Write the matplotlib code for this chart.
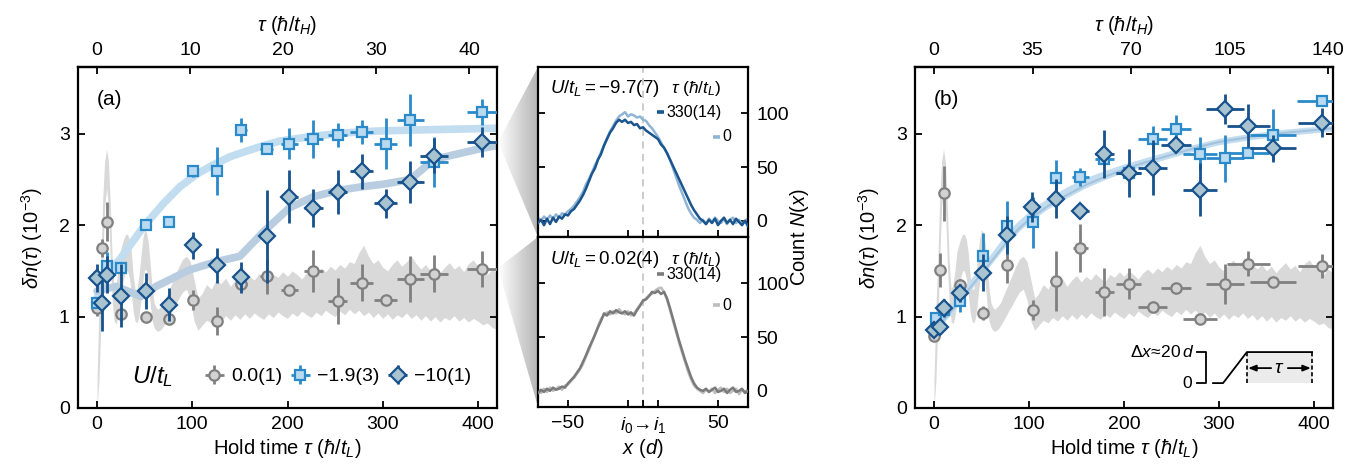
import numpy as np
import matplotlib
matplotlib.use('Agg')
import matplotlib.pyplot as plt
from matplotlib.patches import Polygon, Rectangle
from matplotlib.colors import LinearSegmentedColormap

plt.rcParams['font.family'] = ['Liberation Sans', 'DejaVu Sans']
plt.rcParams['mathtext.fontset'] = 'custom'
plt.rcParams['mathtext.rm'] = 'Liberation Sans'
plt.rcParams['mathtext.it'] = 'Liberation Sans:italic'
plt.rcParams['mathtext.bf'] = 'Liberation Sans:bold'
plt.rcParams['axes.linewidth'] = 1.6
for a in ('xtick', 'ytick'):
    plt.rcParams[a + '.major.width'] = 1.3
    plt.rcParams[a + '.major.size'] = 5
    plt.rcParams[a + '.direction'] = 'in'
    plt.rcParams[a + '.labelsize'] = 14

# ---------------- data: panel (a) ----------------
tA_c = [0, 5, 10, 25, 51, 76, 101, 126, 151, 178, 202, 227, 253, 278, 303, 329, 354, 404]
yA_c = [1.09, 1.75, 2.04, 1.03, 0.99, 0.97, 1.18, 0.95, 1.36, 1.44, 1.29, 1.50, 1.17, 1.37, 1.18, 1.41, 1.47, 1.52]
eA_c = [0.08, 0.10, 0.21, 0.05, 0.05, 0.04, 0.11, 0.15, 0.05, 0.19, 0.05, 0.23, 0.25, 0.20, 0.04, 0.25, 0.20, 0.20]
xA_c = [0, 0, 0, 0, 0, 0, 0, 0, 6, 7, 9, 10, 10, 12, 12, 14, 15, 16]

tA_s = [0, 10, 25, 51, 76, 101, 126, 151, 178, 202, 227, 253, 278, 303, 329, 354, 404]
yA_s = [1.15, 1.55, 1.53, 2.00, 2.03, 2.59, 2.59, 3.04, 2.83, 2.89, 2.94, 2.99, 3.02, 2.89, 3.15, 2.69, 3.24]
eA_s = [0.05, 0.16, 0.05, 0.04, 0.05, 0.06, 0.26, 0.13, 0.04, 0.17, 0.21, 0.13, 0.13, 0.28, 0.28, 0.27, 0.14]
xA_s = [0, 0, 0, 0, 0, 0, 0, 6, 7, 9, 10, 10, 12, 12, 14, 15, 16]

tA_d = [0, 5, 10, 25, 51, 76, 101, 126, 151, 178, 202, 227, 253, 278, 303, 329, 354, 404]
yA_d = [1.42, 1.15, 1.46, 1.23, 1.28, 1.13, 1.78, 1.56, 1.43, 1.88, 2.31, 2.19, 2.36, 2.59, 2.24, 2.47, 2.76, 2.91]
eA_d = [0.15, 0.31, 0.20, 0.34, 0.20, 0.18, 0.15, 0.19, 0.17, 0.51, 0.29, 0.21, 0.24, 0.19, 0.16, 0.23, 0.19, 0.16]
xA_d = [0, 0, 0, 0, 0, 0, 0, 0, 6, 7, 9, 10, 10, 12, 12, 14, 15, 16]

fitA1_t = [0, 5, 15, 25, 50, 70, 87, 105, 122, 140, 157, 175, 192, 225, 261, 295, 331, 420]
fitA1 = [1.20, 1.35, 1.52, 1.64, 2.00, 2.24, 2.42, 2.56, 2.66, 2.75, 2.81, 2.87, 2.92, 2.97, 3.01, 3.03, 3.04, 3.06]
fitA2_t = [0, 20, 46, 62, 97, 125, 150, 175, 202, 227, 253, 278, 302, 329, 354, 404, 420]
fitA2 = [1.28, 1.33, 1.22, 1.33, 1.51, 1.60, 1.66, 1.93, 2.19, 2.31, 2.38, 2.42, 2.45, 2.50, 2.72, 2.84, 2.87]

# theory fluctuation band (same in both panels)
band_t = [0, 2, 4, 6, 8, 10, 12, 14, 16, 18, 20, 22, 24, 26, 28, 30, 32, 34, 36, 38,
          40, 42, 44, 46, 48, 50, 52, 54, 56, 58, 60, 62, 64, 66, 68, 70, 74, 78, 82, 86,
          90, 94, 98, 102, 106, 110, 115, 120, 125, 130, 135, 140, 145, 150, 155, 160,
          165, 170, 175, 180, 185, 190, 195, 200, 205, 210, 215, 220, 225, 230, 235, 240,
          245, 250, 255, 260, 265, 270, 275, 280, 285, 290, 295, 300, 305, 310, 315, 320,
          325, 330, 335, 340, 345, 350, 355, 360, 365, 370, 375, 380, 385, 390, 395, 400,
          405, 410, 415, 420]
band_hi = [0.30, 1.10, 1.60, 2.30, 2.70, 2.83, 2.70, 2.20, 1.60, 1.30, 1.35, 1.50, 1.70, 1.78, 1.85, 1.90, 1.90, 1.85, 1.70, 1.45,
           1.30, 1.30, 1.45, 1.65, 1.85, 1.95, 1.92, 1.80, 1.55, 1.30, 1.15, 1.10, 1.08, 1.10, 1.12, 1.15, 1.25, 1.35, 1.45, 1.55,
           1.63, 1.66, 1.60, 1.40, 1.20, 1.25, 1.35, 1.30, 1.40, 1.36, 1.42, 1.33, 1.40, 1.45, 1.38, 1.44,
           1.40, 1.47, 1.42, 1.38, 1.46, 1.43, 1.49, 1.44, 1.50, 1.46, 1.41, 1.48, 1.52, 1.47, 1.53, 1.49,
           1.55, 1.51, 1.57, 1.53, 1.60, 1.58, 1.70, 1.78, 1.66, 1.58, 1.62, 1.54, 1.50, 1.57, 1.62, 1.55,
           1.60, 1.66, 1.58, 1.52, 1.57, 1.50, 1.55, 1.48, 1.54, 1.59, 1.52, 1.56, 1.49, 1.58, 1.62, 1.55,
           1.50, 1.46, 1.52, 1.47]
band_lo = [0.00, 0.30, 0.90, 1.60, 2.20, 2.40, 2.20, 1.60, 1.15, 0.95, 0.92, 1.00, 1.15, 1.30, 1.42, 1.50, 1.50, 1.42, 1.25, 1.05,
           0.95, 0.93, 1.00, 1.18, 1.38, 1.52, 1.50, 1.35, 1.12, 0.95, 0.88, 0.85, 0.84, 0.85, 0.87, 0.90, 0.97, 1.05, 1.12, 1.20,
           1.27, 1.30, 1.18, 0.95, 0.85, 0.90, 0.96, 0.93, 0.99, 0.95, 1.01, 0.96, 1.02, 0.97, 1.03, 0.98,
           1.04, 1.00, 0.97, 1.03, 0.99, 1.05, 1.01, 0.98, 1.04, 1.00, 1.06, 1.02, 0.99, 1.05, 1.01, 1.07,
           1.03, 1.00, 1.06, 1.02, 1.08, 1.03, 1.07, 1.01, 1.05, 0.99, 1.04, 0.98, 1.03, 0.97, 1.02, 0.99,
           1.04, 0.98, 1.02, 0.96, 1.01, 0.95, 1.00, 0.94, 0.99, 0.96, 1.01, 0.95, 0.99, 0.94, 0.98, 0.95,
           0.91, 0.93, 0.88, 0.86]

# ---------------- data: panel (b) ----------------
tB_c = [0, 6, 11, 27, 52, 77, 104, 128, 154, 179, 205, 230, 255, 280, 306, 331, 357, 408]
yB_c = [0.79, 1.51, 2.35, 1.35, 1.04, 1.56, 1.07, 1.39, 1.75, 1.27, 1.36, 1.11, 1.31, 0.97, 1.36, 1.58, 1.38, 1.55]
eB_c = [0.05, 0.19, 0.30, 0.06, 0.08, 0.19, 0.11, 0.33, 0.26, 0.26, 0.17, 0.04, 0.04, 0.04, 0.22, 0.14, 0.04, 0.13]
xB_c = [0, 0, 0, 0, 0, 0, 4, 6, 8, 10, 13, 15, 16, 18, 20, 23, 24, 25]

tB_s = [2, 11, 27, 52, 77, 104, 128, 154, 179, 205, 230, 255, 280, 306, 331, 357, 408]
yB_s = [0.98, 1.07, 1.17, 1.66, 1.99, 2.03, 2.52, 2.53, 2.72, 2.57, 2.94, 3.05, 2.78, 2.73, 2.79, 2.99, 3.36]
eB_s = [0.04, 0.05, 0.12, 0.25, 0.27, 0.28, 0.19, 0.10, 0.06, 0.05, 0.15, 0.16, 0.18, 0.26, 0.05, 0.28, 0.04]
xB_s = [0, 0, 0, 0, 0, 0, 6, 9, 10, 13, 15, 16, 18, 20, 22, 24, 26]

tB_d = [0, 6, 11, 27, 52, 77, 103, 128, 154, 179, 205, 230, 255, 280, 306, 331, 357, 408]
yB_d = [0.85, 0.89, 1.09, 1.26, 1.48, 1.89, 2.20, 2.29, 2.16, 2.78, 2.57, 2.63, 2.88, 2.39, 3.27, 3.09, 2.84, 3.12]
eB_d = [0.05, 0.08, 0.10, 0.10, 0.20, 0.21, 0.16, 0.21, 0.04, 0.26, 0.26, 0.30, 0.05, 0.29, 0.16, 0.23, 0.15, 0.16]
xB_d = [0, 0, 0, 0, 0, 0, 4, 6, 9, 10, 13, 15, 16, 18, 20, 23, 24, 25]

fitB_t = [0, 10, 20, 30, 40, 50, 60, 70, 80, 90, 100, 120, 140, 160, 180, 200, 220, 240, 260, 280, 300, 330, 360, 390, 420]
fitB1 = [0.87, 1.00, 1.13, 1.27, 1.40, 1.53, 1.66, 1.80, 1.93, 2.03, 2.12, 2.27, 2.39, 2.49, 2.57, 2.64, 2.70, 2.76, 2.82, 2.87, 2.92, 2.97, 3.01, 3.04, 3.06]
fitB2 = [0.84, 0.96, 1.08, 1.21, 1.34, 1.47, 1.60, 1.73, 1.86, 1.97, 2.06, 2.21, 2.33, 2.44, 2.53, 2.61, 2.68, 2.74, 2.80, 2.86, 2.91, 2.96, 3.00, 3.03, 3.06]

# ---------------- data: density profiles ----------------
x_prof = [-70, -68, -66, -64, -62, -60, -58, -56, -54, -52, -50, -48, -46, -44, -42, -40, -38, -36,
          -34, -32, -30, -28, -26, -24, -22, -20, -18, -16, -14, -12, -10, -8, -6, -4, -2, 0,
          2, 4, 6, 8, 10, 12, 14, 16, 18, 20, 22, 24, 26, 28, 30, 32, 34, 36, 38, 40,
          42, 44, 46, 48, 50, 52, 54, 56, 58, 60, 62, 64, 66, 68, 70]
N_att_0 = [3, 0, 4, 1, 5, 2, 6, 3, 7, 6, 9, 11, 14, 18, 22, 27, 34, 39,
           45, 52, 57, 64, 70, 77, 83, 88, 93, 97, 99, 101, 97, 99, 98, 96, 97, 94,
           93, 89, 86, 82, 78, 73, 68, 63, 57, 49, 41, 33, 26, 19, 12, 7, 3, 1, -2, 1,
           -3, 2, -1, 3, 0, -2, 2, -3, 1, 3, -2, 1, -3, 0, 2]
N_att_330 = [-2, 1, -4, 2, -3, 3, -1, 4, 2, 6, 5, 9, 11, 15, 19, 24, 30, 37,
             44, 49, 57, 62, 70, 76, 82, 86, 91, 94, 92, 94, 91, 92, 89, 90, 86, 87,
             84, 82, 80, 78, 76, 71, 68, 63, 57, 51, 45, 39, 33, 27, 21, 15, 10, 6, 2, 0,
             -3, 1, -2, 2, -4, 0, 3, -2, 1, -3, 2, -1, -4, 0, -5]
N_free_0 = [1, -2, 2, -1, 3, 0, 2, 4, 1, 5, 6, 9, 12, 16, 20, 25, 32, 38,
            45, 53, 60, 67, 70, 73, 71, 74, 72, 76, 73, 71, 74, 70, 72, 76, 80, 83,
            86, 89, 90, 93, 95, 96, 92, 85, 75, 65, 55, 45, 36, 27, 18, 11, 5, 2, 0, -2,
            1, -1, 2, -2, 1, 3, -1, 2, -2, 0, 2, -3, 1, -1, 1]
N_free_330 = [-2, 1, -1, 2, 0, 3, 1, 2, 4, 3, 7, 10, 13, 17, 21, 27, 33, 40,
              46, 52, 59, 65, 72, 70, 74, 72, 75, 73, 72, 74, 71, 73, 70, 75, 79, 84,
              85, 88, 92, 91, 93, 90, 92, 86, 77, 67, 57, 47, 38, 29, 21, 13, 7, 3, 1, 0,
              2, -1, 1, 3, -1, 0, 2, -2, 1, 3, -1, 0, 2, -2, 0]

legend_labels = ['0.0(1)', '\u22121.9(3)', '\u221210(1)']

# ---------------- styles ----------------
C_GREY_E, C_GREY_F = '#808080', '#d2d2d2'
C_SQ_E, C_SQ_F = '#2a8ac9', '#b9daf0'
C_DI_E, C_DI_F = '#17528c', '#a9c3d0'
BAND = '#d9d9d9'

W, H = 1369, 470
fig = plt.figure(figsize=(W / 100, H / 100), dpi=100)


def rect(l, t, r, b):
    return [l / W, (H - b) / H, (r - l) / W, (b - t) / H]


axA = fig.add_axes(rect(78, 67, 497, 408))
axT = fig.add_axes(rect(538, 67, 748, 237))
axM = fig.add_axes(rect(538, 237, 748, 407))
axB = fig.add_axes(rect(915, 67, 1333, 408))


def series(ax, t, y, e, xe, marker, ms, mec, mfc, z):
    return ax.errorbar(t, y, yerr=e, xerr=xe, fmt=marker, ms=ms, mec=mec, mfc=mfc,
                       mew=1.6, ecolor=mec, elinewidth=2.0, capsize=0, zorder=z)


def main_panel(ax, label, factor, top_ticks):
    ax.fill_between(band_t, band_lo, band_hi, color=BAND, lw=0, zorder=1)
    ax.set_xlim(-20, 420)
    ax.set_ylim(0, 3.73)
    ax.set_xticks([0, 100, 200, 300, 400])
    ax.set_yticks([0, 1, 2, 3])
    ax.tick_params(axis='both', right=True, top=False, pad=6)
    ax.set_xlabel(r'Hold time $\tau$ ($\hbar/t_L$)', fontsize=14.5, labelpad=3)
    ax.set_ylabel(r'$\delta n(\tau)$ $(10^{-3})$', fontsize=14.5, labelpad=10)
    ax.text(0.045, 0.905, label, transform=ax.transAxes, fontsize=15, va='center')
    sec = ax.secondary_xaxis('top', functions=(lambda t: t * factor, lambda h: h / factor))
    sec.set_xticks(top_ticks)
    sec.tick_params(direction='in', length=5, width=1.3, labelsize=14, pad=6)
    sec.set_xlabel(r'$\tau$ ($\hbar/t_H$)', fontsize=14.5, labelpad=8)


# ----- panel (a)
main_panel(axA, '(a)', 0.1024, [0, 10, 20, 30, 40])
axA.plot(fitA1_t, fitA1, color='#c3ddf0', lw=5.5, solid_capstyle='round', zorder=2)
axA.plot(fitA2_t, fitA2, color='#b9cde0', lw=5.5, solid_capstyle='round', zorder=2)
hc = series(axA, tA_c, yA_c, eA_c, xA_c, 'o', 7.5, C_GREY_E, C_GREY_F, 3)
hs = series(axA, tA_s, yA_s, eA_s, xA_s, 's', 7.5, C_SQ_E, C_SQ_F, 4)
hd = series(axA, tA_d, yA_d, eA_d, xA_d, 'D', 8.2, C_DI_E, C_DI_F, 5)
axA.text(0.13, 0.092, r'$U/t_L$', transform=axA.transAxes, fontsize=17.5, va='center')
axA.legend([hc, hs, hd], legend_labels, ncol=3, loc='center left', bbox_to_anchor=(0.295, 0.092),
           frameon=False, fontsize=14, handlelength=1.3, handletextpad=0.2, columnspacing=0.3,
           borderaxespad=0, borderpad=0)

# ----- panel (b)
main_panel(axB, '(b)', 0.3375, [0, 35, 70, 105, 140])
axB.fill_between(fitB_t, [v - 0.03 for v in fitB2], [v + 0.03 for v in fitB1], color='#c3ddf0', lw=0, zorder=2)
axB.plot(fitB_t, fitB2, color='#9dbcd8', lw=1.5, alpha=0.8, zorder=2)
series(axB, tB_c, yB_c, eB_c, xB_c, 'o', 7.5, C_GREY_E, C_GREY_F, 3)
series(axB, tB_s, yB_s, eB_s, xB_s, 's', 7.5, C_SQ_E, C_SQ_F, 4)
series(axB, tB_d, yB_d, eB_d, xB_d, 'D', 8.2, C_DI_E, C_DI_F, 5)

# quench sketch inset
tr = axB.transAxes
axB.add_patch(Rectangle((0.794, 0.073), 0.156, 0.091, transform=tr, fc='#ebebeb', ec='none', zorder=6))
axB.plot([0.713, 0.737, 0.794, 0.950], [0.073, 0.073, 0.164, 0.164], transform=tr, color='k', lw=1.3, zorder=7)
for xv in (0.794, 0.950):
    axB.plot([xv, xv], [0.073, 0.164], transform=tr, color='k', lw=1.2, ls=(0, (2.5, 1.5)), zorder=7)
axB.plot([0.675, 0.696, 0.696, 0.675], [0.164, 0.164, 0.073, 0.073], transform=tr, color='k', lw=1.3, zorder=7)
axB.annotate('', xy=(0.797, 0.117), xytext=(0.852, 0.117), xycoords='axes fraction',
             arrowprops=dict(arrowstyle='-|>,head_width=0.18,head_length=0.45', color='k', lw=1.3, shrinkA=0, shrinkB=0), zorder=8)
axB.annotate('', xy=(0.947, 0.117), xytext=(0.892, 0.117), xycoords='axes fraction',
             arrowprops=dict(arrowstyle='-|>,head_width=0.18,head_length=0.45', color='k', lw=1.3, shrinkA=0, shrinkB=0), zorder=8)
axB.text(0.872, 0.117, r'$\tau$', transform=tr, fontsize=14, ha='center', va='center', zorder=8)
axB.text(0.668, 0.164, r'$\Delta x\!\approx\!20\,d$', transform=tr, fontsize=12.5, ha='right', va='center')
axB.text(0.663, 0.073, '0', transform=tr, fontsize=12.5, ha='right', va='center')

# ----- middle profiles
for ax in (axT, axM):
    ax.axvline(0, color='#c8c8c8', lw=1.3, ls=(0, (4, 3)), zorder=1)
    ax.set_xlim(-70, 70)
    ax.set_ylim(-15, 143)
    ax.set_yticks([0, 50, 100])
    ax.set_xticks([-50, -10, 0, 10, 50])
    ax.tick_params(axis='y', left=True, right=True, labelleft=False, labelright=True, pad=6)
    ax.tick_params(axis='x', top=False, pad=6)

axT.tick_params(axis='x', labelbottom=False)
axM.set_xticklabels(['\u221250', '', r'$i_0\!\rightarrow\! i_1$', '', '50'])
axM.set_xlabel(r'$x$ ($d$)', fontsize=14.5, labelpad=1)

axT.plot(x_prof, N_att_0, color='#8fb4d6', lw=1.8, zorder=2)
axT.plot(x_prof, N_att_330, color='#1a5590', lw=1.8, zorder=3)
axM.plot(x_prof, N_free_0, color='#bdbdbd', lw=1.8, zorder=2)
axM.plot(x_prof, N_free_330, color='#7a7a7a', lw=1.8, zorder=3)


def prof_legend(ax, title, y0, y1, y2, c330, c0):
    t = ax.transAxes
    ax.text(0.055, y0, title, transform=t, fontsize=13.5, va='center', ha='left')
    ax.text(0.875, y0, r'$\tau$ ($\hbar/t_L$)', transform=t, fontsize=12.5, va='center', ha='right')
    ax.text(0.877, y1, '330(14)', transform=t, fontsize=11.5, va='center', ha='right')
    ax.plot([0.565, 0.598], [y1, y1], transform=t, color=c330, lw=2.6, solid_capstyle='butt')
    ax.text(0.877, y2, '0', transform=t, fontsize=11.5, va='center', ha='left')
    ax.plot([0.835, 0.868], [y2, y2], transform=t, color=c0, lw=2.6, solid_capstyle='butt')


prof_legend(axT, r'$U/t_L = -9.7(7)$', 0.875, 0.735, 0.59, '#1a5590', '#8fb4d6')
prof_legend(axM, r'$U/t_L = 0.02(4)$', 0.865, 0.78, 0.60, '#7a7a7a', '#bdbdbd')

fig.text(800 / W, (H - 237) / H, r'Count $N(x)$', rotation=90, fontsize=14.5, ha='center', va='center')

# ----- grey zoom wedges between (a) and the profiles
wax = fig.add_axes([498 / W, 0, 40 / W, 1])
wax.set_zorder(-1)
wax.set_xlim(498, 538)
wax.set_ylim(0, H)
wax.axis('off')
cmap = LinearSegmentedColormap.from_list('wg', ['#ffffff', '#b4b4b4'])
grad = np.linspace(0, 1, 64)[None, :]
for poly in ([(498, H - 142), (538, H - 67), (538, H - 237)],
             [(498, H - 268), (538, H - 237), (538, H - 407)]):
    im = wax.imshow(grad, extent=(498, 538, 0, H), aspect='auto', cmap=cmap, origin='lower')
    p = Polygon(poly, closed=True, transform=wax.transData, fc='none', ec='none')
    wax.add_patch(p)
    im.set_clip_path(p)

fig.savefig('out.png', dpi=100)
